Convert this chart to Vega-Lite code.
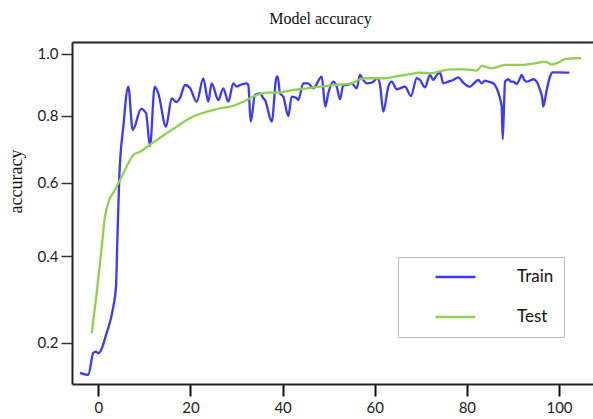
{
  "$schema": "https://vega.github.io/schema/vega-lite/v6.json",
  "autosize": "none",
  "width": 521,
  "height": 342,
  "padding": {"left": 72, "top": 42, "right": 0, "bottom": 35},
  "background": "white",
  "title": {"text": "Model accuracy", "font": "Liberation Serif", "fontSize": 16, "fontWeight": "normal", "color": "#111", "anchor": "middle", "frame": "group", "dx": -12, "dy": 16, "baseline": "alphabetic", "offset": 18},
  "config": {"view": {"stroke": null}},
  "data": {"values": [
    {"epoch": -3.97, "accuracy": 0.1412, "series": "Train"},
    {"epoch": -2.17, "accuracy": 0.1375, "series": "Train"},
    {"epoch": -1.09, "accuracy": 0.1798, "series": "Train"},
    {"epoch": -0.5, "accuracy": 0.1823, "series": "Train"},
    {"epoch": 0.0, "accuracy": 0.1792, "series": "Train"},
    {"epoch": 1.82, "accuracy": 0.221, "series": "Train"},
    {"epoch": 3.26, "accuracy": 0.2789, "series": "Train"},
    {"epoch": 3.84, "accuracy": 0.3255, "series": "Train"},
    {"epoch": 4.12, "accuracy": 0.4346, "series": "Train"},
    {"epoch": 4.56, "accuracy": 0.6169, "series": "Train"},
    {"epoch": 5.43, "accuracy": 0.7663, "series": "Train"},
    {"epoch": 6.51, "accuracy": 0.8926, "series": "Train"},
    {"epoch": 7.47, "accuracy": 0.7561, "series": "Train"},
    {"epoch": 9.31, "accuracy": 0.8221, "series": "Train"},
    {"epoch": 10.35, "accuracy": 0.8089, "series": "Train"},
    {"epoch": 11.22, "accuracy": 0.7074, "series": "Train"},
    {"epoch": 12.24, "accuracy": 0.8926, "series": "Train"},
    {"epoch": 13.02, "accuracy": 0.8713, "series": "Train"},
    {"epoch": 14.7, "accuracy": 0.7663, "series": "Train"},
    {"epoch": 15.93, "accuracy": 0.8553, "series": "Train"},
    {"epoch": 16.97, "accuracy": 0.8436, "series": "Train"},
    {"epoch": 17.73, "accuracy": 0.8563, "series": "Train"},
    {"epoch": 18.82, "accuracy": 0.8981, "series": "Train"},
    {"epoch": 19.9, "accuracy": 0.8884, "series": "Train"},
    {"epoch": 21.36, "accuracy": 0.8445, "series": "Train"},
    {"epoch": 22.79, "accuracy": 0.9198, "series": "Train"},
    {"epoch": 23.88, "accuracy": 0.8445, "series": "Train"},
    {"epoch": 24.61, "accuracy": 0.9036, "series": "Train"},
    {"epoch": 26.05, "accuracy": 0.8499, "series": "Train"},
    {"epoch": 27.13, "accuracy": 0.8874, "series": "Train"},
    {"epoch": 28.22, "accuracy": 0.8445, "series": "Train"},
    {"epoch": 29.3, "accuracy": 0.9036, "series": "Train"},
    {"epoch": 30.04, "accuracy": 0.8926, "series": "Train"},
    {"epoch": 30.76, "accuracy": 0.8981, "series": "Train"},
    {"epoch": 32.21, "accuracy": 0.9036, "series": "Train"},
    {"epoch": 32.56, "accuracy": 0.8981, "series": "Train"},
    {"epoch": 33.08, "accuracy": 0.7817, "series": "Train"},
    {"epoch": 34.01, "accuracy": 0.8659, "series": "Train"},
    {"epoch": 35.1, "accuracy": 0.8713, "series": "Train"},
    {"epoch": 35.82, "accuracy": 0.8553, "series": "Train"},
    {"epoch": 36.18, "accuracy": 0.8499, "series": "Train"},
    {"epoch": 37.64, "accuracy": 0.7817, "series": "Train"},
    {"epoch": 38.72, "accuracy": 0.9251, "series": "Train"},
    {"epoch": 38.94, "accuracy": 0.9251, "series": "Train"},
    {"epoch": 39.44, "accuracy": 0.8713, "series": "Train"},
    {"epoch": 40.16, "accuracy": 0.8605, "series": "Train"},
    {"epoch": 41.24, "accuracy": 0.7995, "series": "Train"},
    {"epoch": 41.98, "accuracy": 0.8605, "series": "Train"},
    {"epoch": 43.07, "accuracy": 0.8553, "series": "Train"},
    {"epoch": 43.41, "accuracy": 0.8499, "series": "Train"},
    {"epoch": 44.5, "accuracy": 0.9036, "series": "Train"},
    {"epoch": 45.58, "accuracy": 0.9036, "series": "Train"},
    {"epoch": 46.67, "accuracy": 0.8874, "series": "Train"},
    {"epoch": 47.04, "accuracy": 0.8926, "series": "Train"},
    {"epoch": 48.49, "accuracy": 0.9251, "series": "Train"},
    {"epoch": 49.27, "accuracy": 0.8287, "series": "Train"},
    {"epoch": 49.92, "accuracy": 0.8713, "series": "Train"},
    {"epoch": 51.01, "accuracy": 0.9088, "series": "Train"},
    {"epoch": 51.75, "accuracy": 0.8926, "series": "Train"},
    {"epoch": 52.46, "accuracy": 0.8521, "series": "Train"},
    {"epoch": 53.18, "accuracy": 0.8981, "series": "Train"},
    {"epoch": 53.92, "accuracy": 0.8981, "series": "Train"},
    {"epoch": 55.0, "accuracy": 0.9036, "series": "Train"},
    {"epoch": 56.09, "accuracy": 0.8874, "series": "Train"},
    {"epoch": 56.8, "accuracy": 0.9306, "series": "Train"},
    {"epoch": 57.52, "accuracy": 0.9143, "series": "Train"},
    {"epoch": 58.26, "accuracy": 0.9036, "series": "Train"},
    {"epoch": 59.34, "accuracy": 0.9056, "series": "Train"},
    {"epoch": 60.65, "accuracy": 0.9199, "series": "Train"},
    {"epoch": 61.15, "accuracy": 0.8981, "series": "Train"},
    {"epoch": 61.86, "accuracy": 0.813, "series": "Train"},
    {"epoch": 62.95, "accuracy": 0.8926, "series": "Train"},
    {"epoch": 63.69, "accuracy": 0.9088, "series": "Train"},
    {"epoch": 64.77, "accuracy": 0.8842, "series": "Train"},
    {"epoch": 65.49, "accuracy": 0.8874, "series": "Train"},
    {"epoch": 66.57, "accuracy": 0.8926, "series": "Train"},
    {"epoch": 67.87, "accuracy": 0.8627, "series": "Train"},
    {"epoch": 69.11, "accuracy": 0.9199, "series": "Train"},
    {"epoch": 69.83, "accuracy": 0.9143, "series": "Train"},
    {"epoch": 70.91, "accuracy": 0.8906, "series": "Train"},
    {"epoch": 72.0, "accuracy": 0.9306, "series": "Train"},
    {"epoch": 72.72, "accuracy": 0.9143, "series": "Train"},
    {"epoch": 73.45, "accuracy": 0.9306, "series": "Train"},
    {"epoch": 74.17, "accuracy": 0.9381, "series": "Train"},
    {"epoch": 74.89, "accuracy": 0.9036, "series": "Train"},
    {"epoch": 75.97, "accuracy": 0.9088, "series": "Train"},
    {"epoch": 77.06, "accuracy": 0.9143, "series": "Train"},
    {"epoch": 78.14, "accuracy": 0.9231, "series": "Train"},
    {"epoch": 79.23, "accuracy": 0.9056, "series": "Train"},
    {"epoch": 80.68, "accuracy": 0.8926, "series": "Train"},
    {"epoch": 81.4, "accuracy": 0.9014, "series": "Train"},
    {"epoch": 82.48, "accuracy": 0.9143, "series": "Train"},
    {"epoch": 83.22, "accuracy": 0.9036, "series": "Train"},
    {"epoch": 83.94, "accuracy": 0.9121, "series": "Train"},
    {"epoch": 84.65, "accuracy": 0.9088, "series": "Train"},
    {"epoch": 85.74, "accuracy": 0.9036, "series": "Train"},
    {"epoch": 86.48, "accuracy": 0.8874, "series": "Train"},
    {"epoch": 87.19, "accuracy": 0.8553, "series": "Train"},
    {"epoch": 87.56, "accuracy": 0.8287, "series": "Train"},
    {"epoch": 87.78, "accuracy": 0.7277, "series": "Train"},
    {"epoch": 88.06, "accuracy": 0.8287, "series": "Train"},
    {"epoch": 88.28, "accuracy": 0.9088, "series": "Train"},
    {"epoch": 89.0, "accuracy": 0.9166, "series": "Train"},
    {"epoch": 89.58, "accuracy": 0.9088, "series": "Train"},
    {"epoch": 90.08, "accuracy": 0.9088, "series": "Train"},
    {"epoch": 90.82, "accuracy": 0.9014, "series": "Train"},
    {"epoch": 91.54, "accuracy": 0.9199, "series": "Train"},
    {"epoch": 91.9, "accuracy": 0.9306, "series": "Train"},
    {"epoch": 92.47, "accuracy": 0.9143, "series": "Train"},
    {"epoch": 92.99, "accuracy": 0.9088, "series": "Train"},
    {"epoch": 93.71, "accuracy": 0.9121, "series": "Train"},
    {"epoch": 94.42, "accuracy": 0.9166, "series": "Train"},
    {"epoch": 95.16, "accuracy": 0.9088, "series": "Train"},
    {"epoch": 95.88, "accuracy": 0.8819, "series": "Train"},
    {"epoch": 96.38, "accuracy": 0.8553, "series": "Train"},
    {"epoch": 96.59, "accuracy": 0.8287, "series": "Train"},
    {"epoch": 97.33, "accuracy": 0.8819, "series": "Train"},
    {"epoch": 98.05, "accuracy": 0.9251, "series": "Train"},
    {"epoch": 98.55, "accuracy": 0.9394, "series": "Train"},
    {"epoch": 99.85, "accuracy": 0.9394, "series": "Train"},
    {"epoch": 102.24, "accuracy": 0.9381, "series": "Train"},
    {"epoch": -1.43, "accuracy": 0.2203, "series": "Test"},
    {"epoch": -0.35, "accuracy": 0.3099, "series": "Test"},
    {"epoch": 0.74, "accuracy": 0.425, "series": "Test"},
    {"epoch": 1.45, "accuracy": 0.5046, "series": "Test"},
    {"epoch": 2.39, "accuracy": 0.5506, "series": "Test"},
    {"epoch": 3.62, "accuracy": 0.5788, "series": "Test"},
    {"epoch": 5.08, "accuracy": 0.6169, "series": "Test"},
    {"epoch": 6.51, "accuracy": 0.6559, "series": "Test"},
    {"epoch": 7.6, "accuracy": 0.6805, "series": "Test"},
    {"epoch": 9.05, "accuracy": 0.6903, "series": "Test"},
    {"epoch": 10.85, "accuracy": 0.7074, "series": "Test"},
    {"epoch": 12.68, "accuracy": 0.7256, "series": "Test"},
    {"epoch": 14.85, "accuracy": 0.746, "series": "Test"},
    {"epoch": 17.02, "accuracy": 0.7663, "series": "Test"},
    {"epoch": 19.19, "accuracy": 0.787, "series": "Test"},
    {"epoch": 21.36, "accuracy": 0.8026, "series": "Test"},
    {"epoch": 23.53, "accuracy": 0.813, "series": "Test"},
    {"epoch": 26.42, "accuracy": 0.8237, "series": "Test"},
    {"epoch": 28.59, "accuracy": 0.8287, "series": "Test"},
    {"epoch": 31.47, "accuracy": 0.8445, "series": "Test"},
    {"epoch": 34.38, "accuracy": 0.8659, "series": "Test"},
    {"epoch": 36.55, "accuracy": 0.8733, "series": "Test"},
    {"epoch": 39.44, "accuracy": 0.8745, "series": "Test"},
    {"epoch": 42.33, "accuracy": 0.8819, "series": "Test"},
    {"epoch": 45.24, "accuracy": 0.8874, "series": "Test"},
    {"epoch": 48.12, "accuracy": 0.8926, "series": "Test"},
    {"epoch": 51.38, "accuracy": 0.8981, "series": "Test"},
    {"epoch": 55.0, "accuracy": 0.9036, "series": "Test"},
    {"epoch": 56.44, "accuracy": 0.9143, "series": "Test"},
    {"epoch": 57.89, "accuracy": 0.9199, "series": "Test"},
    {"epoch": 62.23, "accuracy": 0.9199, "series": "Test"},
    {"epoch": 65.12, "accuracy": 0.9273, "series": "Test"},
    {"epoch": 68.03, "accuracy": 0.9339, "series": "Test"},
    {"epoch": 69.46, "accuracy": 0.9381, "series": "Test"},
    {"epoch": 72.37, "accuracy": 0.9362, "series": "Test"},
    {"epoch": 73.8, "accuracy": 0.9414, "series": "Test"},
    {"epoch": 76.34, "accuracy": 0.9493, "series": "Test"},
    {"epoch": 79.6, "accuracy": 0.9493, "series": "Test"},
    {"epoch": 82.14, "accuracy": 0.9447, "series": "Test"},
    {"epoch": 83.22, "accuracy": 0.9602, "series": "Test"},
    {"epoch": 85.39, "accuracy": 0.9526, "series": "Test"},
    {"epoch": 88.28, "accuracy": 0.9635, "series": "Test"},
    {"epoch": 91.9, "accuracy": 0.9635, "series": "Test"},
    {"epoch": 94.79, "accuracy": 0.9691, "series": "Test"},
    {"epoch": 96.96, "accuracy": 0.9745, "series": "Test"},
    {"epoch": 98.42, "accuracy": 0.9658, "series": "Test"},
    {"epoch": 99.85, "accuracy": 0.9711, "series": "Test"},
    {"epoch": 101.3, "accuracy": 0.9825, "series": "Test"},
    {"epoch": 103.47, "accuracy": 0.9858, "series": "Test"},
    {"epoch": 104.78, "accuracy": 0.9858, "series": "Test"}
  ]},
  "layer": [
    {
      "mark": {"type": "line", "interpolate": "monotone", "strokeWidth": 2.3, "clip": true},
      "encoding": {
        "x": {"field": "epoch", "type": "quantitative",
              "scale": {"domain": [-5.71, 107.38], "nice": false, "zero": false},
              "axis": {"orient": "bottom", "values": [0, 20, 40, 60, 80, 100], "grid": false, "title": null,
                       "domainColor": "#222", "domainWidth": 2, "tickColor": "#111", "tickWidth": 2, "tickSize": 12,
                       "labelFont": "Lato", "labelFontSize": 15, "labelColor": "#222", "labelPadding": 4, "labelFlush": false}},
        "y": {"field": "accuracy", "type": "quantitative",
              "scale": {"type": "pow", "exponent": 0.7, "domain": [0.1211, 1.0403], "nice": false, "zero": false},
              "axis": {"values": [0.2, 0.4, 0.6, 0.8, 1.0], "format": ".1f", "grid": false,
                       "domainColor": "#222", "domainWidth": 2, "tickColor": "#333", "tickWidth": 1.5, "tickSize": 11,
                       "labelFont": "Lato", "labelFontSize": 15, "labelColor": "#222", "labelPadding": 3, "labelFlush": false,
                       "title": "accuracy", "titleFont": "Liberation Serif", "titleFontSize": 18, "titleFontWeight": "normal", "titleColor": "#111",
                       "titleAngle": -90, "titleX": -51, "titleY": 139, "titleAlign": "center", "titleBaseline": "alphabetic"}},
        "color": {"field": "series", "type": "nominal",
                  "scale": {"domain": ["Train", "Test"], "range": ["#3a3af8", "#92d050"]},
                  "legend": {"orient": "none", "legendX": 326, "legendY": 215, "title": null,
                             "symbolType": "stroke", "symbolSize": 1600, "symbolStrokeWidth": 2.5, "symbolOffset": 26,
                             "labelFont": "Lato", "labelFontSize": 17, "labelColor": "#111", "labelOffset": 40,
                             "clipHeight": 20, "rowPadding": 20, "padding": 10, "strokeColor": "#bcbcbc", "fillColor": "white"}}
      }
    },
    {
      "mark": {"type": "line", "opacity": 0},
      "encoding": {
        "x": {"field": "epoch", "type": "quantitative",
              "axis": {"orient": "top", "labels": false, "ticks": false, "grid": false, "title": null, "domainColor": "#222", "domainWidth": 2, "minExtent": 0, "maxExtent": 0, "labelPadding": 0}},
        "y": {"field": "accuracy", "type": "quantitative"}
      }
    }
  ],
  "resolve": {"axis": {"x": "independent"}}
}
